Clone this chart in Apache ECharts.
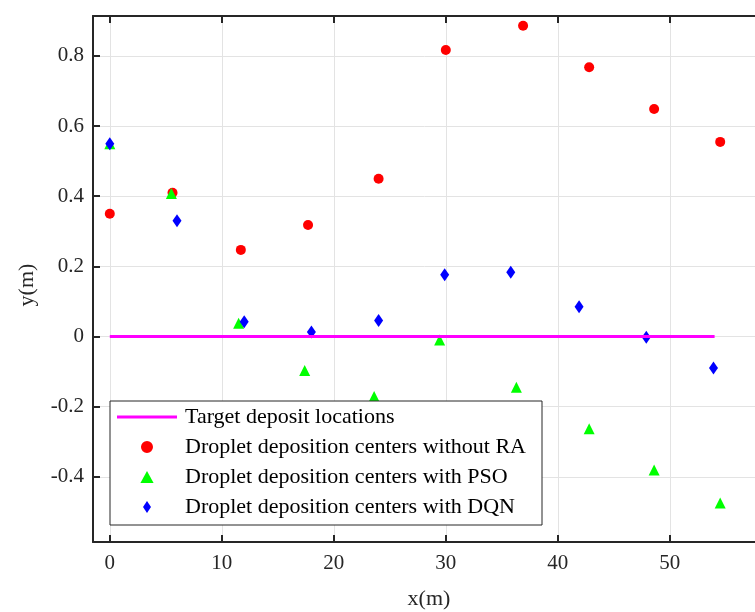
<!DOCTYPE html>
<html>
<head>
<meta charset="utf-8">
<title>Droplet deposition centers</title>
<script src="https://cdn.jsdelivr.net/npm/echarts@6/dist/echarts.min.js"></script>
<style>
  html, body { margin: 0; padding: 0; background: #fff; }
  #chart { width: 755px; height: 612px; }
</style>
</head>
<body>
<div id="chart"></div>
<script>
// target line (x from / to, y = 0)
const targetX = [0, 54]
const targetY = [0, 0]

// deposition centers
const noRaX = [0, 5.6, 11.7, 17.7, 24.0, 30.0, 36.9, 42.8, 48.6, 54.5]
const noRaY = [0.35, 0.41, 0.247, 0.318, 0.45, 0.817, 0.886, 0.768, 0.649, 0.555]

const psoX = [0, 5.5, 11.5, 17.4, 23.6, 29.45, 36.3, 42.8, 48.6, 54.5]
const psoY = [0.55, 0.408, 0.038, -0.097, -0.171, -0.01, -0.145, -0.263, -0.381, -0.475]

const dqnX = [0, 6.0, 12.0, 18.0, 24.0, 29.9, 35.8, 41.9, 47.9, 53.9]
const dqnY = [0.55, 0.33, 0.042, 0.013, 0.046, 0.176, 0.183, 0.085, -0.002, -0.09]

// tick labels
const xTicks = [0, 10, 20, 30, 40, 50]
const yTicks = [-0.4, -0.2, 0, 0.2, 0.4, 0.6, 0.8]

const names = [
  'Target deposit locations',
  'Droplet deposition centers without RA',
  'Droplet deposition centers with PSO',
  'Droplet deposition centers with DQN'
]

const font = 'Liberation Serif'
const axisColor = '#262626'

function pairs(xs, ys) {
  return xs.map((x, i) => [x, ys[i]])
}

function near(list, v) {
  return list.some(t => Math.abs(t - v) < 1e-6)
}

const chart = echarts.init(document.getElementById('chart'), null, { renderer: 'canvas' })

chart.setOption({
  animation: false,
  backgroundColor: '#fff',
  grid: {
    left: 93,
    top: 16,
    width: 672,   // runs past the right edge, like the cropped figure
    bottom: 70,
    containLabel: false,
    outerBoundsMode: 'none'
  },
  xAxis: [{
    type: 'value',
    min: -1.5,
    max: 58.5,
    minInterval: 10,
    maxInterval: 10,
    name: 'x(m)',
    nameLocation: 'middle',
    nameGap: 46,
    nameTextStyle: { fontFamily: font, fontSize: 22, color: '#262626' },
    axisLine: { show: true, onZero: false, lineStyle: { color: axisColor, width: 2 } },
    axisTick: { show: true, inside: true, length: 7, lineStyle: { color: axisColor, width: 2 } },
    axisLabel: {
      fontFamily: font,
      fontSize: 21,
      color: '#262626',
      margin: 11,
      formatter: v => near(xTicks, v) ? String(v) : ''
    },
    splitLine: { show: true, lineStyle: { color: '#e3e3e3', width: 1 } }
  }, {
    type: 'value',
    position: 'top',
    min: -1.5,
    max: 58.5,
    minInterval: 10,
    maxInterval: 10,
    axisLine: { show: true, onZero: false, lineStyle: { color: axisColor, width: 2 } },
    axisTick: { show: true, inside: true, length: 7, lineStyle: { color: axisColor, width: 2 } },
    axisLabel: { show: false },
    splitLine: { show: false }
  }],
  yAxis: {
    type: 'value',
    min: -0.586,
    max: 0.914,
    minInterval: 0.2,
    maxInterval: 0.2,
    name: 'y(m)',
    nameLocation: 'middle',
    nameGap: 55,
    nameTextStyle: { fontFamily: font, fontSize: 22, color: '#262626', padding: [0, 12, 0, 0] },
    axisLine: { show: true, onZero: false, lineStyle: { color: axisColor, width: 2 } },
    axisTick: { show: true, inside: true, length: 7, lineStyle: { color: axisColor, width: 2 } },
    axisLabel: {
      fontFamily: font,
      fontSize: 21,
      color: '#262626',
      margin: 9,
      formatter: v => near(yTicks, v) ? String(Math.round(v * 10) / 10) : ''
    },
    splitLine: { show: true, lineStyle: { color: '#e3e3e3', width: 1 } }
  },
  legend: {
    orient: 'vertical',
    left: 110,
    top: 401,
    padding: [5, 9, 7, 7],
    itemWidth: 60,
    itemHeight: 12,
    itemGap: 8,
    symbolKeepAspect: true,
    backgroundColor: '#fff',
    borderColor: axisColor,
    borderWidth: 1,
    borderRadius: 0,
    textStyle: { fontFamily: font, fontSize: 22, color: '#000', lineHeight: 22, width: 348, padding: [0, 0, 0, 3] },
    data: [
      { name: names[0], icon: 'path://M0,0H60V3H0Z', itemStyle: { color: '#ff00ff' } },
      { name: names[1], icon: 'path://M5,0A5,5,0,1,1,4.99,0Z' },
      { name: names[2], icon: 'path://M5.5,0L11,10L0,10Z' },
      { name: names[3], icon: 'path://M4,0L8,6L4,12L0,6Z' }
    ]
  },
  series: [
    {
      name: names[0],
      type: 'line',
      symbol: 'none',
      data: pairs(targetX, targetY),
      lineStyle: { color: '#ff00ff', width: 3 },
      itemStyle: { color: '#ff00ff' }
    },
    {
      name: names[1],
      type: 'scatter',
      symbol: 'circle',
      symbolSize: 10,
      data: pairs(noRaX, noRaY),
      itemStyle: { color: '#ff0000', opacity: 1 }
    },
    {
      name: names[2],
      type: 'scatter',
      symbol: 'triangle',
      symbolSize: 11,
      data: pairs(psoX, psoY),
      itemStyle: { color: '#00ff00', opacity: 1 }
    },
    {
      name: names[3],
      type: 'scatter',
      symbol: 'diamond',
      symbolSize: [9, 13],
      data: pairs(dqnX, dqnY),
      itemStyle: { color: '#0000ff', opacity: 1 }
    }
  ]
})
</script>
</body>
</html>
